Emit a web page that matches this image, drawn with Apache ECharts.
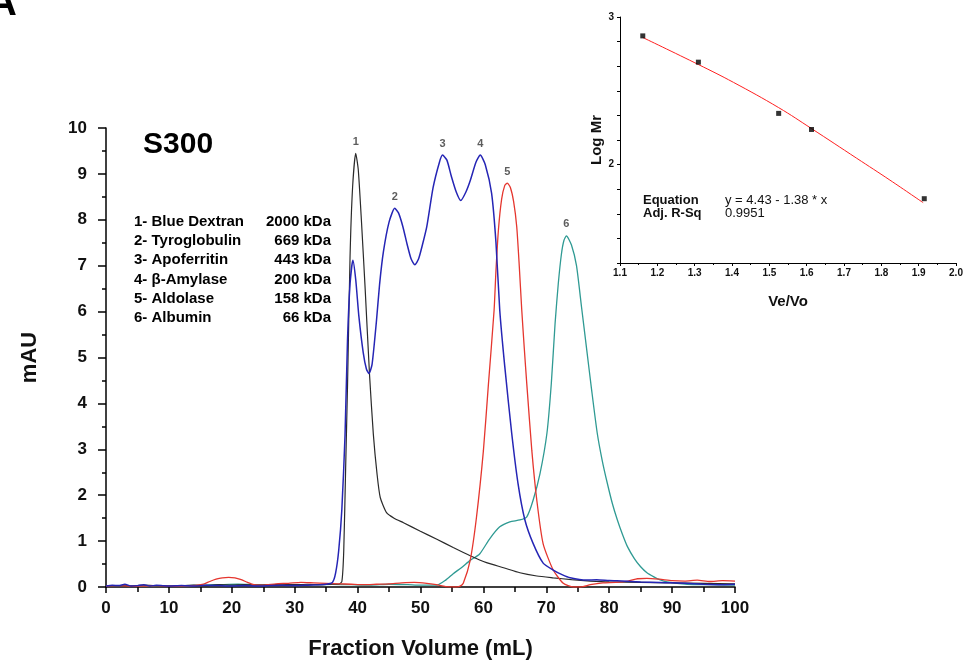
<!DOCTYPE html>
<html><head><meta charset="utf-8">
<script src="https://cdn.jsdelivr.net/npm/echarts@6/dist/echarts.min.js"></script>
<style>html,body{margin:0;padding:0;background:#fff}#c{width:966px;height:661px}</style>
</head><body><div id="c"></div>
<script>
// ---- main chromatogram data: [fraction volume (mL), absorbance (mAU)] ----
const blueDextran = [[0,0.02],[2,0.03],[4,0.02],[6,0.04],[8,0.03],[10,0.02],[12,0.03],[14,0.04],[16,0.03],[18,0.05],[20,0.04],[22,0.05],[24,0.04],[26,0.05],[28,0.06],[30,0.05],[32,0.06],[34,0.05],[36,0.06],[37,0.06],[37.5,0.12],[37.8,0.8],[38.1,2.6],[38.4,4.4],[38.8,7.2],[39.2,8.7],[39.7,9.45],[40.1,9.1],[40.6,8.0],[41.2,6.5],[41.9,4.62],[42.5,3.33],[43.1,2.45],[43.6,1.95],[44.6,1.62],[45.8,1.5],[47.3,1.4],[49.9,1.22],[52.6,1.04],[55.2,0.86],[57.9,0.68],[60.5,0.53],[63.2,0.42],[65.8,0.31],[68.5,0.24],[71.1,0.2],[74,0.16],[77,0.13],[80,0.11],[85,0.1],[90,0.09],[95,0.08],[100,0.07]];
const proteinMix = [[0,0.02],[1,0.04],[2,0.03],[3,0.06],[4,0.02],[5,0.03],[6,0.05],[7,0.02],[8,0.04],[9,0.03],[10,0.02],[12,0.03],[14,0.02],[16,0.04],[18,0.03],[20,0.02],[22,0.03],[24,0.02],[26,0.03],[28,0.04],[30,0.03],[32,0.04],[34,0.05],[35,0.06],[36,0.1],[36.5,0.3],[37,0.8],[37.5,1.7],[38,3.3],[38.4,5.4],[38.8,6.6],[39.25,7.12],[39.7,6.7],[40.2,5.9],[40.9,5.1],[41.4,4.75],[41.8,4.65],[42.3,4.85],[43.0,5.8],[43.5,6.6],[44.1,7.3],[45,7.95],[45.9,8.25],[46.5,8.15],[47.2,7.85],[47.9,7.45],[48.5,7.15],[49.1,7.02],[49.7,7.15],[50.3,7.45],[51,7.85],[52,8.7],[53,9.25],[53.5,9.41],[54.2,9.3],[54.9,8.95],[55.7,8.6],[56.4,8.42],[57.2,8.6],[57.9,8.85],[58.8,9.25],[59.5,9.41],[60.3,9.2],[61.3,8.58],[62,7.5],[62.6,6.03],[63.4,4.8],[64.5,3.35],[65.5,2.26],[66.6,1.46],[67.9,0.95],[69.5,0.52],[71.1,0.37],[72.5,0.27],[73.8,0.2],[76.4,0.15],[78,0.16],[80,0.14],[82,0.13],[85,0.11],[88,0.1],[90,0.09],[92,0.08],[95,0.06],[98,0.05],[100,0.06]];
const aldolase = [[0,0.02],[2,0.03],[4,0.02],[6,0.02],[8,0.03],[10,0.02],[12,0.02],[14,0.03],[15.5,0.06],[16.5,0.12],[17.5,0.17],[18.5,0.2],[19.5,0.21],[20.5,0.2],[21.5,0.16],[22.5,0.1],[23.5,0.05],[25,0.04],[27,0.07],[29,0.08],[31,0.1],[33,0.09],[35,0.08],[37,0.07],[39,0.06],[41,0.05],[43,0.06],[45,0.07],[47,0.09],[49,0.1],[51,0.08],[52.5,0.05],[54,0.01],[55.5,0],[56.3,0.02],[56.8,0.08],[57.9,0.58],[58.9,1.52],[60.0,2.97],[60.8,4.42],[61.7,6.03],[62.0,6.9],[62.4,7.8],[62.9,8.45],[63.4,8.75],[63.8,8.8],[64.3,8.7],[64.8,8.4],[65.3,7.85],[65.7,7.0],[66.1,6.03],[66.5,5.2],[66.9,4.42],[67.7,2.97],[68.5,1.88],[69.5,0.94],[71.1,0.37],[72.7,0.08],[74.3,0],[75.5,0],[77,0.05],[79,0.09],[81,0.1],[83,0.13],[84.5,0.18],[86,0.19],[88,0.17],[90,0.14],[92,0.13],[94,0.15],[96,0.12],[98,0.14],[100,0.13]];
const albumin = [[0,0.02],[3,0.03],[6,0.02],[9,0.03],[12,0.02],[15,0.04],[18,0.05],[21,0.06],[24,0.05],[27,0.05],[30,0.04],[33,0.05],[36,0.06],[39,0.05],[42,0.04],[45,0.06],[48,0.05],[50,0.04],[52.6,0.04],[54,0.15],[55.2,0.29],[56.5,0.42],[57.9,0.58],[59.4,0.72],[61.0,1.05],[62.6,1.31],[64.2,1.42],[65.8,1.46],[66.9,1.53],[67.9,1.89],[69.0,2.47],[70.1,3.35],[70.8,4.44],[71.4,5.75],[71.9,6.6],[72.4,7.25],[72.8,7.55],[73.2,7.65],[74.0,7.45],[74.8,7.0],[75.6,6.1],[76.4,5.2],[77.2,4.3],[78.1,3.35],[78.9,2.75],[79.7,2.26],[80.5,1.82],[81.3,1.46],[82.1,1.15],[82.9,0.88],[84,0.62],[85,0.44],[86,0.31],[87.1,0.22],[88,0.16],[89.2,0.11],[92.4,0.06],[96,0.05],[100,0.04]];

// peak numbers
const peakText = ['1','2','3','4','5','6'];
const peakVol  = [39.7, 45.9, 53.5, 59.5, 63.8, 73.2];
const peakAbs  = [9.45, 8.25, 9.41, 9.41, 8.8, 7.65];

// legend table
const standardNames  = ['1- Blue Dextran','2- Tyroglobulin','3- Apoferritin','4- \u03b2-Amylase','5- Aldolase','6- Albumin'];
const standardMasses = ['2000 kDa','669 kDa','443 kDa','200 kDa','158 kDa','66 kDa'];

// ---- inset calibration data ----
const calVeVo  = [1.161, 1.310, 1.525, 1.613, 1.915];
const calLogMr = [2.872, 2.694, 2.347, 2.238, 1.769];
const fitVeVo  = [1.161, 1.310, 1.404, 1.525, 1.613, 1.734, 1.823, 1.912];
const fitLogMr = [2.861, 2.678, 2.557, 2.386, 2.244, 2.043, 1.895, 1.742];
const insetXTicks = [1.1, 2.0, 0.1];

const FONT = '"Liberation Sans", Arial, sans-serif';
const chart = echarts.init(document.getElementById('c'), null, {renderer: 'canvas'});

const graphics = [
  {type:'text', left:-12, top:-16, style:{text:'A', font:'bold 40px ' + FONT, fill:'#000'}},
  {type:'text', x:143, y:145, style:{text:'S300', font:'bold 30px ' + FONT, fill:'#000', verticalAlign:'middle'}},
  {type:'text', x:643, y:200, style:{text:'Equation', font:'bold 13px ' + FONT, fill:'#111', verticalAlign:'middle'}},
  {type:'text', x:643, y:213, style:{text:'Adj. R-Sq', font:'bold 13px ' + FONT, fill:'#111', verticalAlign:'middle'}},
  {type:'text', x:725, y:200, style:{text:'y = 4.43 - 1.38 * x', font:'13px ' + FONT, fill:'#111', verticalAlign:'middle'}},
  {type:'text', x:725, y:213, style:{text:'0.9951', font:'13px ' + FONT, fill:'#111', verticalAlign:'middle'}}
];
standardNames.forEach((n, i) => {
  graphics.push({type:'text', x:134, y:221.5 + i*19.3, style:{text:n, font:'bold 15px ' + FONT, fill:'#000', verticalAlign:'middle'}});
  graphics.push({type:'text', x:331, y:221.5 + i*19.3, style:{text:standardMasses[i], font:'bold 15px ' + FONT, fill:'#000', verticalAlign:'middle', align:'right'}});
});

const axisLineStyle = {color:'#000', width:1.5};
const lineSeries = (name, data, color, width) => ({
  name, type:'line', xAxisIndex:0, yAxisIndex:0, data, showSymbol:false, smooth:0.2,
  lineStyle:{color, width}, itemStyle:{color}, z:3, animation:false
});

chart.setOption({
  animation:false,
  backgroundColor:'#fff',
  textStyle:{fontFamily:FONT},
  graphic: graphics,
  grid:[
    {left:106, right:231, top:128, bottom:74, outerBoundsMode:'none', containLabel:false},
    {left:620, right:10, top:17, bottom:398, outerBoundsMode:'none', containLabel:false}
  ],
  xAxis:[
    {gridIndex:0, type:'value', min:0, max:100, interval:10,
     axisLine:{lineStyle:axisLineStyle}, axisTick:{length:6, lineStyle:{width:1.5, color:'#000'}},
     minorTick:{show:true, splitNumber:2, length:5, lineStyle:{width:1.5, color:'#000'}},
     splitLine:{show:false},
     axisLabel:{margin:13, fontSize:17, fontWeight:'bold', color:'#111', fontFamily:FONT},
     name:'Fraction Volume (mL)', nameLocation:'middle', nameGap:51,
     nameTextStyle:{fontSize:22, fontWeight:'bold', color:'#111', fontFamily:FONT}},
    {gridIndex:1, type:'value', min:insetXTicks[0], max:insetXTicks[1], interval:insetXTicks[2],
     axisLine:{lineStyle:{color:'#000', width:1}}, axisTick:{length:3, lineStyle:{color:'#000'}},
     minorTick:{show:true, splitNumber:2, length:2, lineStyle:{color:'#000'}},
     splitLine:{show:false},
     axisLabel:{margin:5, fontSize:10, fontWeight:'bold', color:'#111', fontFamily:FONT, formatter:v => v.toFixed(1)},
     name:'Ve/Vo', nameLocation:'middle', nameGap:31,
     nameTextStyle:{fontSize:15, fontWeight:'bold', color:'#111', fontFamily:FONT}}
  ],
  yAxis:[
    {gridIndex:0, type:'value', min:0, max:10, interval:1,
     axisLine:{show:true, lineStyle:axisLineStyle}, axisTick:{show:true, length:8, lineStyle:{width:1.5, color:'#000'}},
     minorTick:{show:true, splitNumber:2, length:4, lineStyle:{width:1.5, color:'#000'}},
     splitLine:{show:false},
     axisLabel:{margin:19, fontSize:17, fontWeight:'bold', color:'#111', fontFamily:FONT},
     name:'mAU', nameLocation:'middle', nameGap:65, nameRotate:90,
     nameTextStyle:{fontSize:22, fontWeight:'bold', color:'#111', fontFamily:FONT}},
    {gridIndex:1, type:'value', min:4/3, max:3, interval:1/6,
     axisLine:{show:true, lineStyle:{color:'#000', width:1}}, axisTick:{show:true, length:3, lineStyle:{color:'#000'}},
     splitLine:{show:false},
     axisLabel:{margin:6, fontSize:10, fontWeight:'bold', color:'#111', fontFamily:FONT,
       formatter:v => Math.abs(v - Math.round(v)) < 1e-6 ? String(Math.round(v)) : ''},
     name:'Log Mr', nameLocation:'middle', nameGap:16, nameRotate:90,
     nameTextStyle:{fontSize:15, fontWeight:'bold', color:'#111', fontFamily:FONT}}
  ],
  series:[
    lineSeries('Albumin', albumin, '#2f9a93', 1.3),
    lineSeries('Blue Dextran', blueDextran, '#2a2a2a', 1.2),
    lineSeries('Aldolase', aldolase, '#e5362e', 1.3),
    lineSeries('Protein mix', proteinMix, '#2525b5', 1.5),
    {name:'Peaks', type:'scatter', xAxisIndex:0, yAxisIndex:0, symbolSize:0,
     data: peakVol.map((v, i) => ({value:[v, peakAbs[i]], name:peakText[i]})),
     label:{show:true, position:'top', distance:6, formatter:p => p.name,
       fontSize:11, fontWeight:'bold', color:'#333', fontFamily:FONT}, z:4},
    {name:'Fit', type:'line', xAxisIndex:1, yAxisIndex:1, showSymbol:false, smooth:0.4,
     data: fitVeVo.map((v, i) => [v, fitLogMr[i]]),
     lineStyle:{color:'#ff2020', width:1}, z:3},
    {name:'Standards', type:'scatter', xAxisIndex:1, yAxisIndex:1, symbol:'rect', symbolSize:5,
     data: calVeVo.map((v, i) => [v, calLogMr[i]]),
     itemStyle:{color:'#000'}, z:4}
  ]
});
</script></body></html>
